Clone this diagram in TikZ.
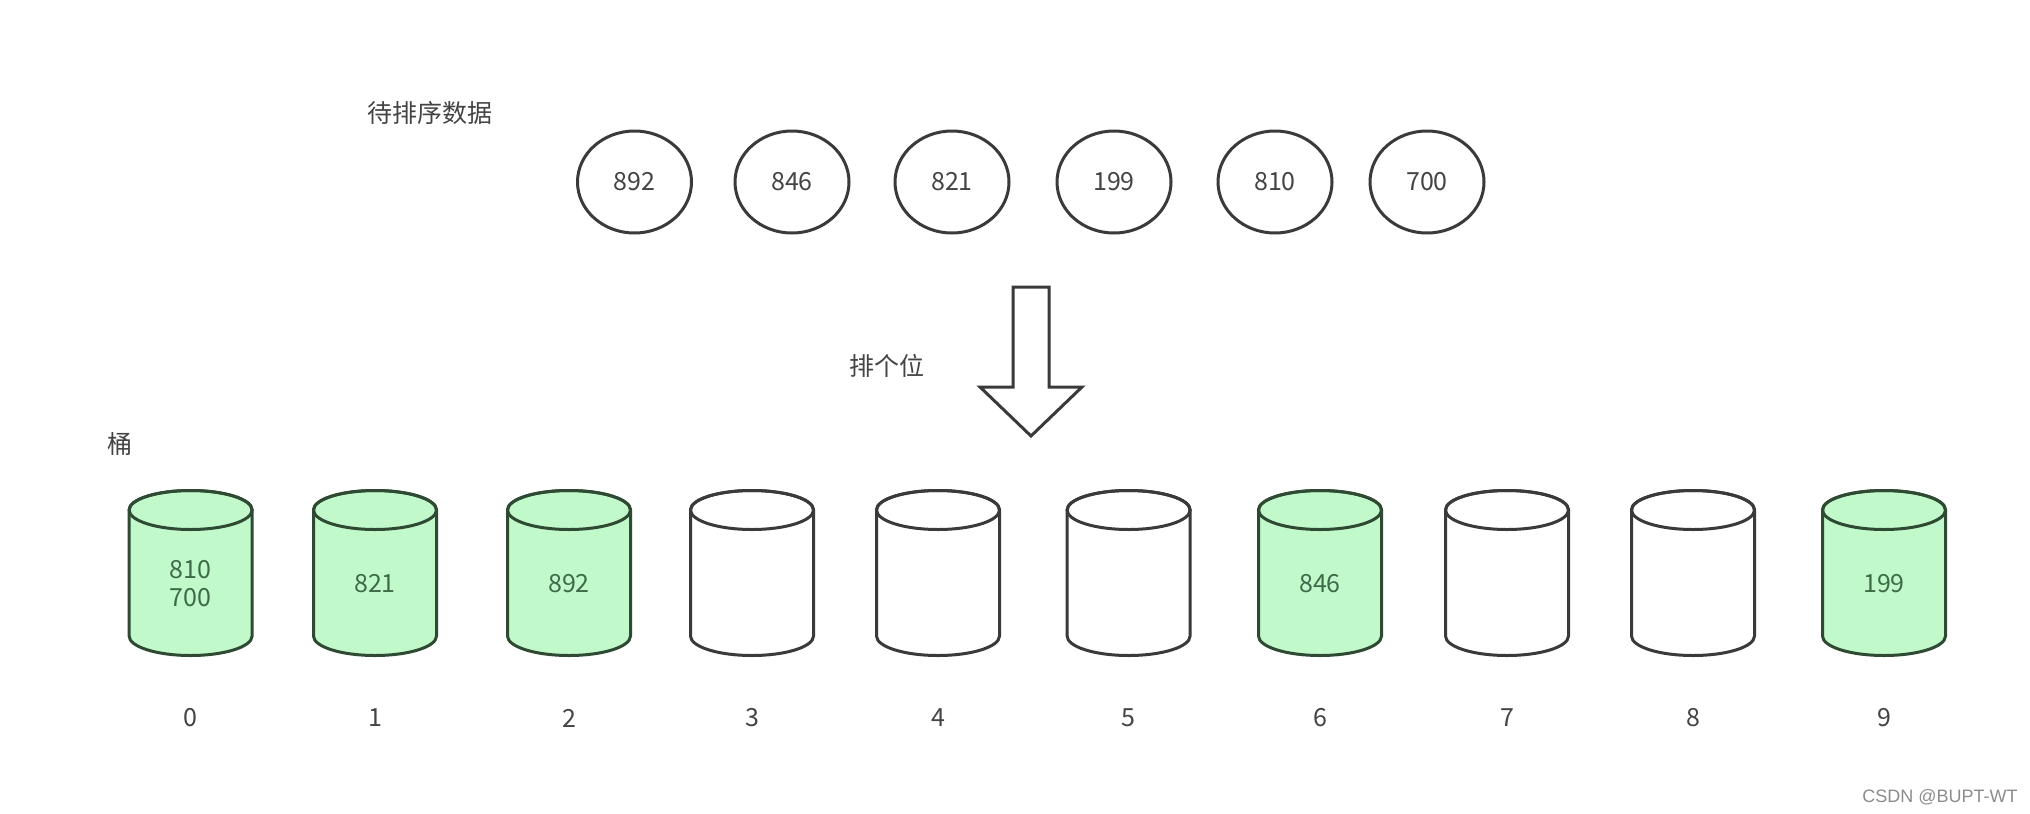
\documentclass[tikz,border=0pt]{standalone}
\usepackage{fontspec}
\setmainfont{Noto Sans CJK SC}
\newfontfamily\wmfont{Liberation Sans}
\usetikzlibrary{shapes.geometric}
\definecolor{ink}{HTML}{3A3A3A}
\definecolor{txt}{HTML}{444444}
\definecolor{gfill}{HTML}{C2F9CB}
\definecolor{gline}{HTML}{2E4A33}
\definecolor{gtxt}{HTML}{3D6B47}
\definecolor{wm}{HTML}{8C8C8C}
\tikzset{
  datum/.style={ellipse, draw=ink, line width=3pt, minimum width=114pt, minimum height=102pt, inner sep=0pt, text=txt, font=\fontsize{25}{30}\selectfont},
  lbl/.style={text=txt, inner sep=0pt, font=\fontsize{25}{30}\selectfont},
  btxt/.style={inner sep=0pt, align=center, font=\fontsize{25}{30}\selectfont},
  arrowshape/.style={draw=ink, line width=3pt, fill=white, line join=miter},
}
\newcommand\drawbucket[6]{%
  \path[fill=#2, draw=#3, line width=3pt] (#1-61.5,510) -- (#1-61.5,636) arc[start angle=180,end angle=0,x radius=61.5,y radius=19.5] -- (#1+61.5,510) arc[start angle=0,end angle=-180,x radius=61.5,y radius=19.5] -- cycle;
  \draw[draw=#3, line width=3pt] (#1,510) ellipse[x radius=61.5, y radius=19.5];
  \node[btxt, text=#4] (#5) at (#1,584) {#6};
}
\begin{document}
\begin{tikzpicture}[x=1pt, y=-1pt]
\useasboundingbox[fill=white] (0,0) rectangle (2030,814);

% title
\node[lbl] (title) at (430,113) {待排序数据};

% data
\node[datum] (d1) at (634.5,182) {892};
\node[datum] (d2) at (792,182) {846};
\node[datum] (d3) at (952,182) {821};
\node[datum] (d4) at (1114,182) {199};
\node[datum] (d5) at (1275,182) {810};
\node[datum] (d6) at (1427,182) {700};

% big arrow
\draw[arrowshape] (1013,287) -- (1049,287) -- (1049,387) -- (1082,387) -- (1031,436) -- (980,387) -- (1013,387) -- cycle;
\node[lbl] (step) at (887,366) {排个位};

% bucket label
\node[lbl] (tong) at (120,444) {桶};

% buckets
\drawbucket{190.6}{gfill}{gline}{gtxt}{b0}{810\\[-2pt]700}
\drawbucket{375}{gfill}{gline}{gtxt}{b1}{821}
\drawbucket{569}{gfill}{gline}{gtxt}{b2}{892}
\drawbucket{752}{white}{ink}{txt}{b3}{}
\drawbucket{938}{white}{ink}{txt}{b4}{}
\drawbucket{1128.6}{white}{ink}{txt}{b5}{}
\drawbucket{1320}{gfill}{gline}{gtxt}{b6}{846}
\drawbucket{1507}{white}{ink}{txt}{b7}{}
\drawbucket{1693}{white}{ink}{txt}{b8}{}
\drawbucket{1884}{gfill}{gline}{gtxt}{b9}{199}

% indices
\node[lbl] (i0) at (190.6,718) {0};
\node[lbl] (i1) at (375,718) {1};
\node[lbl] (i2) at (569,718) {2};
\node[lbl] (i3) at (752,718) {3};
\node[lbl] (i4) at (938,718) {4};
\node[lbl] (i5) at (1128.6,718) {5};
\node[lbl] (i6) at (1320,718) {6};
\node[lbl] (i7) at (1507,718) {7};
\node[lbl] (i8) at (1693,718) {8};
\node[lbl] (i9) at (1884,718) {9};

% watermark
\node[text=wm, inner sep=0pt, font=\wmfont\fontsize{18}{20}\selectfont] (wmk) at (1940,797) {CSDN @BUPT-WT};
\end{tikzpicture}
\end{document}
